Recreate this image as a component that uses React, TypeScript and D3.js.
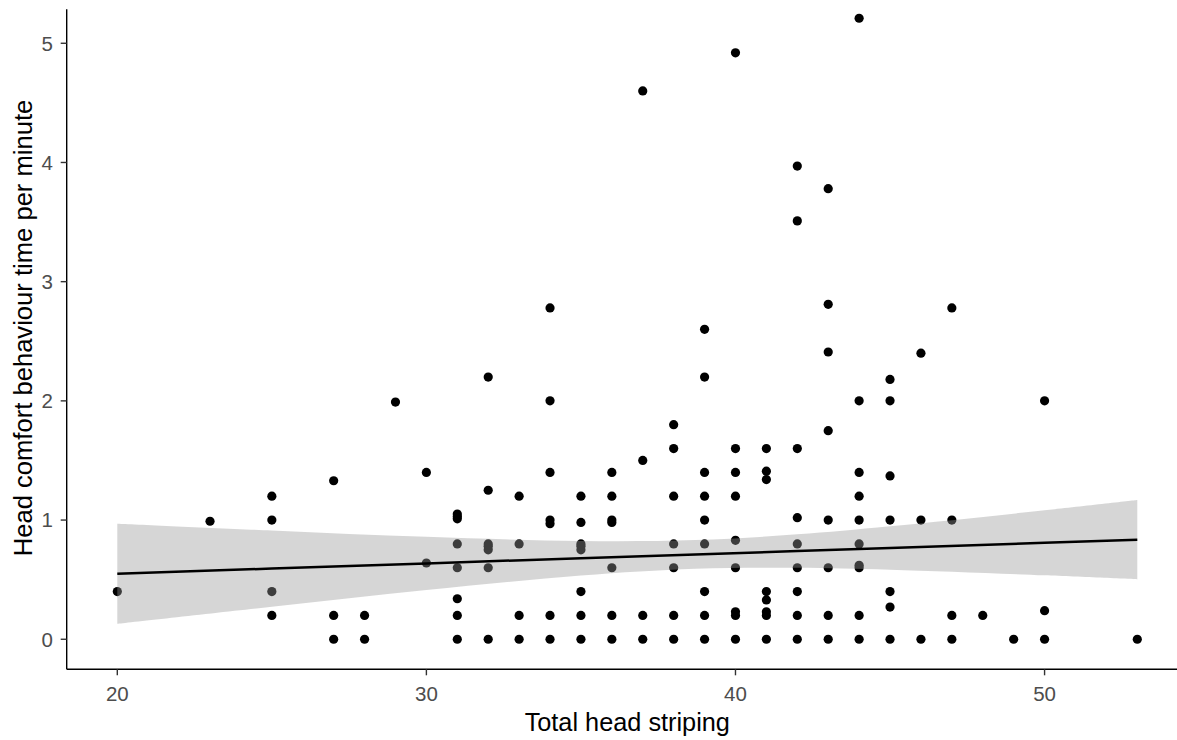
import React from "react";
import * as d3 from "d3";

// ---- data ----
const striping: number[] = [
  20,
  23,
  25, 25, 25, 25,
  27, 27, 27,
  28, 28,
  29,
  30, 30,
  31, 31, 31, 31, 31, 31, 31, 31,
  32, 32, 32, 32, 32, 32, 32,
  33, 33, 33, 33,
  34, 34, 34, 34, 34, 34, 34,
  35, 35, 35, 35, 35, 35, 35, 35,
  36, 36, 36, 36, 36, 36, 36,
  37, 37, 37, 37,
  38, 38, 38, 38, 38, 38, 38,
  39, 39, 39, 39, 39, 39, 39, 39, 39,
  40, 40, 40, 40, 40, 40, 40, 40, 40,
  41, 41, 41, 41, 41, 41, 41, 41,
  42, 42, 42, 42, 42, 42, 42, 42, 42,
  43, 43, 43, 43, 43, 43, 43, 43,
  44, 44, 44, 44, 44, 44, 44, 44, 44, 44,
  45, 45, 45, 45, 45, 45, 45,
  46, 46, 46,
  47, 47, 47, 47,
  48,
  49,
  50, 50, 50,
  53,
];

const comfort: number[] = [
  0.4,
  0.99,
  1.2, 1.0, 0.4, 0.2,
  1.33, 0.2, 0,
  0.2, 0,
  1.99,
  1.4, 0.64,
  1.05, 1.03, 1.01, 0.8, 0.6, 0.34, 0.2, 0,
  2.2, 1.25, 0.8, 0.78, 0.75, 0.6, 0,
  1.2, 0.8, 0.2, 0,
  2.78, 2.0, 1.4, 1.0, 0.97, 0.2, 0,
  1.2, 0.98, 0.8, 0.78, 0.75, 0.4, 0.2, 0,
  1.4, 1.2, 1.0, 0.98, 0.6, 0.2, 0,
  4.6, 1.5, 0.2, 0,
  1.8, 1.6, 1.2, 0.8, 0.6, 0.2, 0,
  2.6, 2.2, 1.4, 1.2, 1.0, 0.8, 0.4, 0.2, 0,
  4.92, 1.6, 1.4, 1.2, 0.83, 0.6, 0.23, 0.2, 0,
  1.6, 1.41, 1.34, 0.4, 0.33, 0.23, 0.2, 0,
  3.97, 3.51, 1.6, 1.02, 0.8, 0.6, 0.4, 0.2, 0,
  3.78, 2.81, 2.41, 1.75, 1.0, 0.6, 0.2, 0,
  5.21, 2.0, 1.4, 1.2, 1.0, 0.8, 0.62, 0.6, 0.2, 0,
  2.18, 2.0, 1.37, 1.0, 0.4, 0.27, 0,
  2.4, 1.0, 0,
  2.78, 1.0, 0.2, 0,
  0.2,
  0,
  2.0, 0.24, 0,
  0,
];

// linear smooth (fit and 95% band)
const smoothX: number[] = [20, 25, 30, 35, 38.7, 42, 45, 50, 53];
const smoothFit: number[] = [0.55, 0.593, 0.636, 0.68, 0.712, 0.74, 0.766, 0.809, 0.835];
const smoothLo: number[] = [0.13, 0.273, 0.413, 0.535, 0.592, 0.6, 0.584, 0.536, 0.502];
const smoothHi: number[] = [0.97, 0.913, 0.859, 0.824, 0.832, 0.88, 0.948, 1.082, 1.168];

const xTicks: number[] = [20, 30, 40, 50];
const yTicks: number[] = [0, 1, 2, 3, 4, 5];

const xTitle = "Total head striping";
const yTitle = "Head comfort behaviour time per minute";

export default function App() {
  const W = 1177;
  const H = 740;
  const left = 66.7;
  const bottom = 669.3;
  const top = 9.3;

  const x = d3.scaleLinear().domain([18.35, 54.65]).range([66.3, 1188.3]);
  const y = d3.scaleLinear().domain([-0.252, 5.285]).range([bottom, top]);

  const idx = smoothX.map((_, i) => i);
  const area = d3
    .area<number>()
    .x((i) => x(smoothX[i]))
    .y0((i) => y(smoothLo[i]))
    .y1((i) => y(smoothHi[i]))
    .curve(d3.curveCatmullRom);
  const line = d3
    .line<number>()
    .x((i) => x(smoothX[i]))
    .y((i) => y(smoothFit[i]))
    .curve(d3.curveLinear);

  const font = "'Liberation Sans', Arial, Helvetica, sans-serif";
  const tickLen = 6;

  return (
    <div style={{ position: "absolute", left: 0, top: 0 }}>
      <svg width={W} height={H} style={{ display: "block", background: "#fff" }}>
        <rect x={0} y={0} width={W} height={H} fill="#ffffff" />
        {/* points */}
        <g>
          {striping.map((sx, i) => (
            <circle key={i} cx={x(sx)} cy={y(comfort[i])} r={4.6} fill="#000000" />
          ))}
        </g>
        {/* confidence band */}
        <path d={area(idx) || ""} fill="#999999" fillOpacity={0.4} stroke="none" />
        {/* fit line */}
        <path d={line(idx) || ""} fill="none" stroke="#000000" strokeWidth={2.5} />

        {/* axes */}
        <line x1={left} x2={W} y1={bottom} y2={bottom} stroke="#000" strokeWidth={1.4} />
        <line x1={left} x2={left} y1={top} y2={bottom} stroke="#000" strokeWidth={1.4} />

        {xTicks.map((t) => (
          <g key={"xt" + t}>
            <line x1={x(t)} x2={x(t)} y1={bottom} y2={bottom + tickLen} stroke="#333333" strokeWidth={1.4} />
            <text
              x={x(t)}
              y={701}
              textAnchor="middle"
              fontFamily={font}
              fontSize={20.5}
              fill="#4D4D4D"
            >
              {t}
            </text>
          </g>
        ))}
        {yTicks.map((t) => (
          <g key={"yt" + t}>
            <line x1={left - tickLen} x2={left} y1={y(t)} y2={y(t)} stroke="#333333" strokeWidth={1.4} />
            <text
              x={53}
              y={y(t)}
              dy="0.36em"
              textAnchor="end"
              fontFamily={font}
              fontSize={20.5}
              fill="#4D4D4D"
            >
              {t}
            </text>
          </g>
        ))}

        <text
          x={(66.3 + 1188.3) / 2}
          y={731}
          textAnchor="middle"
          fontFamily={font}
          fontSize={25.3}
          fill="#000"
        >
          {xTitle}
        </text>
        <text
          transform={`translate(31.5, 328) rotate(-90)`}
          textAnchor="middle"
          fontFamily={font}
          fontSize={25.6}
          fill="#000"
        >
          {yTitle}
        </text>
      </svg>
    </div>
  );
}
